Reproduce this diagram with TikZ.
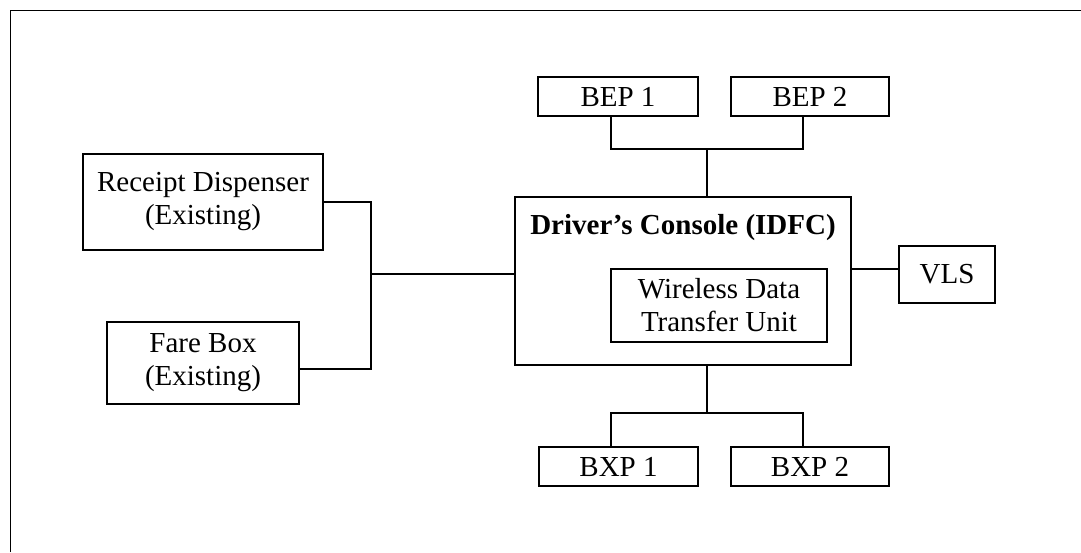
\documentclass[tikz,border=0pt]{standalone}
\usepackage{fontspec}
\setmainfont{Liberation Serif}
\begin{document}
\begin{tikzpicture}[x=1pt,y=-1pt,
  box/.style={draw=black, line width=1.4pt, inner sep=0pt, align=center, font=\fontsize{29}{33}\selectfont},
  wire/.style={draw=black, line width=1.4pt},
  ttl/.style={inner sep=0pt, font=\fontsize{29}{33}\selectfont\bfseries}]
\useasboundingbox (0,0) rectangle (1081,552);
\draw[line width=1.8pt] (10.5,552) -- (10.5,10.5) -- (1081,10.5);
% left boxes
\node[box, minimum width=240pt, minimum height=96pt] (rd) at (203,202) {Receipt Dispenser\\(Existing)};
\node[box, minimum width=192pt, minimum height=82pt] (fb) at (203,363) {Fare Box\\(Existing)};
% console
\node[box, minimum width=336pt, minimum height=168pt] (dc) at (683,281) {};
\node[ttl] (dct) at (683,228) {Driver’s Console (IDFC)};
\node[box, minimum width=216pt, minimum height=73pt] (wd) at (719,305.5) {Wireless Data\\Transfer Unit};
% VLS
\node[box, minimum width=96pt, minimum height=57pt] (vls) at (947,274.5) {VLS};
% BEP / BXP
\node[box, minimum width=160pt, minimum height=39pt] (bep1) at (618,96.5) {BEP 1};
\node[box, minimum width=158pt, minimum height=39pt] (bep2) at (810,96.5) {BEP 2};
\node[box, minimum width=159pt, minimum height=39pt] (bxp1) at (618.5,466.5) {BXP 1};
\node[box, minimum width=158pt, minimum height=39pt] (bxp2) at (810,466.5) {BXP 2};
% junction coordinates
\coordinate (jl) at (371,274);
\coordinate (jt) at (707,149);
\coordinate (jb) at (707,413);
% left connectors
\draw[wire] (rd.east |- 0,202) -| (jl) |- (fb.east |- 0,369);
\draw[wire] (jl) -- (jl -| dc.west);
% top connectors
\draw[wire] (bep1.south -| 611,0) |- (jt) -| (bep2.south -| 803,0);
\draw[wire] (jt) -- (jt |- dc.north);
% bottom connectors
\draw[wire] (bxp1.north -| 611,0) |- (jb) -| (bxp2.north -| 803,0);
\draw[wire] (jb) -- (jb |- dc.south);
% VLS connector
\draw[wire] (dc.east |- 0,269) -- (vls.west |- 0,269);
\end{tikzpicture}
\end{document}
